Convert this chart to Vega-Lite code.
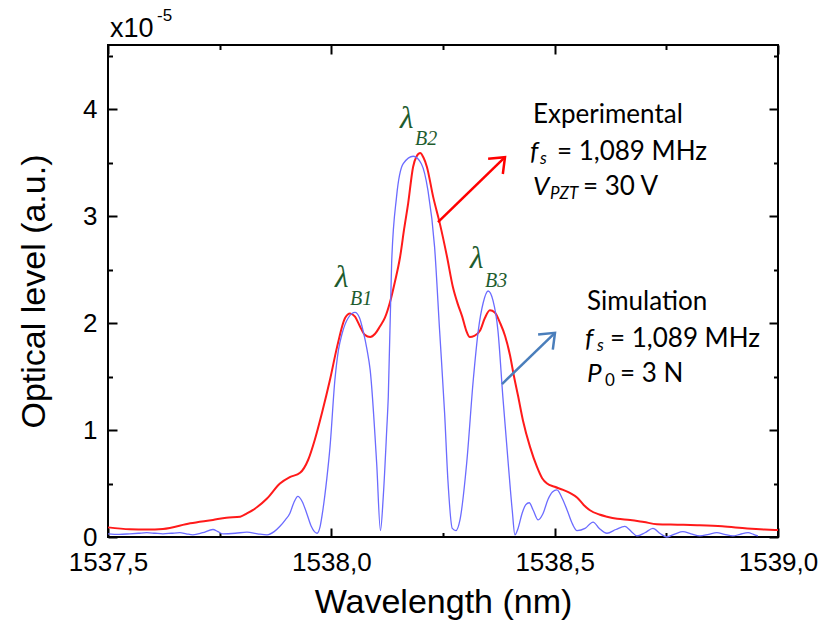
{
  "$schema": "https://vega.github.io/schema/vega-lite/v6.json",
  "autosize": {"type": "none"},
  "padding": {"left": 108, "top": 45, "right": 46, "bottom": 94},
  "width": 670,
  "height": 492,
  "background": "white",
  "datasets": {
    "exp": [
      {"wl":1537.5,"level":0.09},{"wl":1537.549,"level":0.072},{"wl":1537.587,"level":0.07},{"wl":1537.623,"level":0.075},{"wl":1537.684,"level":0.128},{"wl":1537.735,"level":0.16},{"wl":1537.765,"level":0.18},{"wl":1537.796,"level":0.19},{"wl":1537.811,"level":0.22},{"wl":1537.834,"level":0.28},{"wl":1537.856,"level":0.36},{"wl":1537.885,"level":0.5},{"wl":1537.907,"level":0.56},{"wl":1537.93,"level":0.6},{"wl":1537.948,"level":0.72},{"wl":1537.963,"level":0.91},{"wl":1537.979,"level":1.16},{"wl":1537.997,"level":1.47},{"wl":1538.013,"level":1.78},{"wl":1538.031,"level":2.05},{"wl":1538.042,"level":2.09},{"wl":1538.053,"level":2.06},{"wl":1538.064,"level":1.97},{"wl":1538.075,"level":1.89},{"wl":1538.087,"level":1.87},{"wl":1538.098,"level":1.9},{"wl":1538.109,"level":1.97},{"wl":1538.12,"level":2.05},{"wl":1538.131,"level":2.19},{"wl":1538.142,"level":2.38},{"wl":1538.154,"level":2.62},{"wl":1538.163,"level":2.88},{"wl":1538.172,"level":3.12},{"wl":1538.183,"level":3.46},{"wl":1538.191,"level":3.56},{"wl":1538.199,"level":3.59},{"wl":1538.206,"level":3.55},{"wl":1538.214,"level":3.46},{"wl":1538.228,"level":3.18},{"wl":1538.243,"level":2.93},{"wl":1538.259,"level":2.62},{"wl":1538.272,"level":2.34},{"wl":1538.283,"level":2.18},{"wl":1538.293,"level":2.06},{"wl":1538.302,"level":1.93},{"wl":1538.31,"level":1.87},{"wl":1538.32,"level":1.88},{"wl":1538.333,"level":1.93},{"wl":1538.344,"level":2.05},{"wl":1538.355,"level":2.12},{"wl":1538.366,"level":2.1},{"wl":1538.378,"level":2.0},{"wl":1538.389,"level":1.88},{"wl":1538.4,"level":1.7},{"wl":1538.409,"level":1.5},{"wl":1538.418,"level":1.32},{"wl":1538.429,"level":1.09},{"wl":1538.445,"level":0.84},{"wl":1538.46,"level":0.66},{"wl":1538.472,"level":0.55},{"wl":1538.483,"level":0.5},{"wl":1538.5,"level":0.47},{"wl":1538.519,"level":0.44},{"wl":1538.535,"level":0.41},{"wl":1538.55,"level":0.37},{"wl":1538.565,"level":0.3},{"wl":1538.579,"level":0.25},{"wl":1538.6,"level":0.21},{"wl":1538.617,"level":0.19},{"wl":1538.64,"level":0.17},{"wl":1538.669,"level":0.16},{"wl":1538.7,"level":0.14},{"wl":1538.729,"level":0.12},{"wl":1538.775,"level":0.115},{"wl":1538.819,"level":0.11},{"wl":1538.875,"level":0.1},{"wl":1538.931,"level":0.08},{"wl":1538.97,"level":0.07},{"wl":1539.0,"level":0.065}
    ],
    "sim": [
      {"wl":1537.5,"level":0.03},{"wl":1537.525,"level":0.025},{"wl":1537.549,"level":0.03},{"wl":1537.568,"level":0.035},{"wl":1537.587,"level":0.04},{"wl":1537.605,"level":0.035},{"wl":1537.623,"level":0.03},{"wl":1537.642,"level":0.035},{"wl":1537.661,"level":0.04},{"wl":1537.675,"level":0.03},{"wl":1537.69,"level":0.02},{"wl":1537.712,"level":0.04},{"wl":1537.735,"level":0.07},{"wl":1537.746,"level":0.05},{"wl":1537.757,"level":0.03},{"wl":1537.785,"level":0.035},{"wl":1537.811,"level":0.045},{"wl":1537.835,"level":0.03},{"wl":1537.856,"level":0.02},{"wl":1537.872,"level":0.05},{"wl":1537.885,"level":0.1},{"wl":1537.897,"level":0.16},{"wl":1537.907,"level":0.22},{"wl":1537.916,"level":0.32},{"wl":1537.925,"level":0.38},{"wl":1537.935,"level":0.33},{"wl":1537.945,"level":0.22},{"wl":1537.955,"level":0.1},{"wl":1537.968,"level":0.035},{"wl":1537.975,"level":0.1},{"wl":1537.981,"level":0.25},{"wl":1537.99,"level":0.55},{"wl":1537.997,"level":0.84},{"wl":1538.008,"level":1.47},{"wl":1538.016,"level":1.75},{"wl":1538.024,"level":1.9},{"wl":1538.038,"level":2.05},{"wl":1538.053,"level":2.1},{"wl":1538.063,"level":2.05},{"wl":1538.071,"level":1.93},{"wl":1538.08,"level":1.75},{"wl":1538.087,"level":1.56},{"wl":1538.1015,"level":0.69},{"wl":1538.11,"level":0.06},{"wl":1538.1163,"level":0.38},{"wl":1538.124,"level":1.0},{"wl":1538.1275,"level":1.31},{"wl":1538.135,"level":2.56},{"wl":1538.146,"level":3.18},{"wl":1538.161,"level":3.49},{"wl":1538.1835,"level":3.56},{"wl":1538.2015,"level":3.49},{"wl":1538.2163,"level":3.24},{"wl":1538.2312,"level":2.71},{"wl":1538.2424,"level":1.93},{"wl":1538.2536,"level":1.16},{"wl":1538.261,"level":0.53},{"wl":1538.2708,"level":0.08},{"wl":1538.279,"level":0.06},{"wl":1538.288,"level":0.16},{"wl":1538.303,"level":0.69},{"wl":1538.3178,"level":1.47},{"wl":1538.329,"level":1.93},{"wl":1538.34,"level":2.19},{"wl":1538.351,"level":2.3},{"wl":1538.362,"level":2.21},{"wl":1538.373,"level":1.93},{"wl":1538.384,"level":1.31},{"wl":1538.396,"level":0.69},{"wl":1538.405,"level":0.25},{"wl":1538.411,"level":0.02},{"wl":1538.418,"level":0.08},{"wl":1538.427,"level":0.22},{"wl":1538.435,"level":0.3},{"wl":1538.443,"level":0.32},{"wl":1538.452,"level":0.25},{"wl":1538.463,"level":0.16},{"wl":1538.474,"level":0.22},{"wl":1538.485,"level":0.35},{"wl":1538.495,"level":0.42},{"wl":1538.505,"level":0.44},{"wl":1538.517,"level":0.36},{"wl":1538.528,"level":0.25},{"wl":1538.54,"level":0.12},{"wl":1538.55,"level":0.06},{"wl":1538.568,"level":0.08},{"wl":1538.586,"level":0.14},{"wl":1538.6,"level":0.08},{"wl":1538.617,"level":0.035},{"wl":1538.637,"level":0.07},{"wl":1538.657,"level":0.1},{"wl":1538.672,"level":0.05},{"wl":1538.684,"level":0.01},{"wl":1538.702,"level":0.04},{"wl":1538.72,"level":0.08},{"wl":1538.737,"level":0.03},{"wl":1538.751,"level":0.0},{"wl":1538.77,"level":0.03},{"wl":1538.787,"level":0.05},{"wl":1538.805,"level":0.03},{"wl":1538.825,"level":0.01},{"wl":1538.845,"level":0.025},{"wl":1538.863,"level":0.04},{"wl":1538.88,"level":0.025},{"wl":1538.899,"level":0.01},{"wl":1538.915,"level":0.025},{"wl":1538.933,"level":0.04},{"wl":1538.945,"level":0.025},{"wl":1538.955,"level":0.01}
    ],
    "notes": [
      {"kind":"main","text":"Experimental","wl":1538.4515,"level":3.869},
      {"kind":"ital","text":"f","wl":1538.4448,"level":3.523},
      {"kind":"sub","text":"s","wl":1538.4672,"level":3.486},
      {"kind":"main","text":"= 1,089 MHz","wl":1538.5052,"level":3.523},
      {"kind":"ital","text":"V","wl":1538.4515,"level":3.196},
      {"kind":"sub","text":"PZT","wl":1538.4896,"level":3.159},
      {"kind":"main","text":"= 30 V","wl":1538.5634,"level":3.196},
      {"kind":"main","text":"Simulation","wl":1538.5724,"level":2.121},
      {"kind":"ital","text":"f","wl":1538.5679,"level":1.776},
      {"kind":"sub","text":"s","wl":1538.5948,"level":1.739},
      {"kind":"main","text":"= 1,089 MHz","wl":1538.6239,"level":1.776},
      {"kind":"ital","text":"P","wl":1538.5724,"level":1.449},
      {"kind":"subn","text":"0","wl":1538.6127,"level":1.411},
      {"kind":"main","text":"= 3 N","wl":1538.6462,"level":1.449},
      {"kind":"greek","text":"λ","wl":1538.0082,"level":2.336},
      {"kind":"greeksub","text":"B1","wl":1538.0418,"level":2.168},
      {"kind":"greek","text":"λ","wl":1538.1537,"level":3.822},
      {"kind":"greeksub","text":"B2","wl":1538.1873,"level":3.664},
      {"kind":"greek","text":"λ","wl":1538.3104,"level":2.514},
      {"kind":"greeksub","text":"B3","wl":1538.344,"level":2.336},
      {"kind":"mult","text":"x10","wl":1537.5045,"level":4.673},
      {"kind":"sup","text":"-5","wl":1537.6097,"level":4.82}
    ],
    "arrows": [
      {"series":"Experimental","wl":1538.2388,"level":2.944,"wl2":1538.3888,"level2":3.551},
      {"series":"Simulation","wl":1538.3821,"level":1.43,"wl2":1538.5007,"level2":1.909}
    ]
  },
  "layer": [
    {
      "data": {"name": "exp"},
      "mark": {"type": "line", "color": "#ff1a1a", "strokeWidth": 2, "interpolate": "monotone"},
      "encoding": {
        "x": {"field": "wl", "type": "quantitative", "scale": {"domain": [1537.5, 1539.0], "nice": false},
          "axis": {"orient": "bottom", "values": [1537.5, 1538.0, 1538.5, 1539.0], "ticks": false, "labelPadding": 12,
            "labelFlush": false, "labelOverlap": false, "labelFont": "Liberation Sans", "labelFontSize": 26, "labelBound": false,
            "labelExpr": "replace(format(datum.value, '.1f'), '.', ',')", "title": "Wavelength (nm)",
            "titleBaseline": "alphabetic", "titleY": 75, "titleX": 335}},
        "y": {"field": "level", "type": "quantitative", "scale": {"domain": [0, 4.6], "nice": false, "zero": true},
          "axis": {"orient": "left", "values": [0, 1, 2, 3, 4], "ticks": false, "labelPadding": 11, "format": "d",
            "labelFlush": false, "labelOverlap": false, "labelFont": "Liberation Sans", "labelFontSize": 26,
            "title": "Optical level (a.u.)", "titleBaseline": "alphabetic", "titleX": -64, "titleY": 246, "titleAngle": -90, "titleAlign": "center"}}
      }
    },
    {
      "data": {"name": "sim"},
      "mark": {"type": "line", "color": "#6b6bff", "strokeWidth": 1.3, "interpolate": "monotone"},
      "encoding": {
        "x": {"field": "wl", "type": "quantitative",
          "axis": {"orient": "bottom", "values": [1537.5, 1538.0, 1538.5, 1539.0], "labels": false, "tickSize": 9, "offset": -9, "title": null}},
        "y": {"field": "level", "type": "quantitative",
          "axis": {"orient": "left", "values": [0, 1, 2, 3, 4], "labels": false, "tickSize": 9, "offset": -9, "title": null}}
      }
    },
    {
      "data": {"name": "notes"},
      "transform": [{"filter": "datum.kind === 'main'"}],
      "mark": {"type": "text", "align": "left", "baseline": "alphabetic", "font": "Lato", "fontSize": 26, "color": "black"},
      "encoding": {
        "x": {"field": "wl", "type": "quantitative",
          "axis": {"orient": "top", "values": [1537.5, 1538.0, 1538.5, 1539.0], "labels": false, "tickSize": 9, "offset": -9, "title": null}},
        "y": {"field": "level", "type": "quantitative",
          "axis": {"orient": "right", "values": [0, 1, 2, 3, 4], "labels": false, "tickSize": 9, "offset": -9, "title": null}},
        "text": {"field": "text"}
      }
    },
    {
      "data": {"name": "notes"},
      "transform": [{"filter": "datum.kind === 'ital'"}],
      "mark": {"type": "text", "align": "left", "baseline": "alphabetic", "font": "Lato", "fontStyle": "italic", "fontSize": 26, "color": "black"},
      "encoding": {
        "x": {"field": "wl", "type": "quantitative",
          "axis": {"orient": "bottom", "values": [1537.75, 1538.25, 1538.75], "labels": false, "tickSize": 4.5, "offset": -4.5, "title": null}},
        "y": {"field": "level", "type": "quantitative",
          "axis": {"orient": "left", "values": [0.5, 1.5, 2.5, 3.5, 4.5], "labels": false, "tickSize": 4.5, "offset": -4.5, "title": null}},
        "text": {"field": "text"}
      }
    },
    {
      "data": {"name": "notes"},
      "transform": [{"filter": "datum.kind === 'sub'"}],
      "mark": {"type": "text", "align": "left", "baseline": "alphabetic", "font": "Lato", "fontStyle": "italic", "fontSize": 17, "color": "black"},
      "encoding": {
        "x": {"field": "wl", "type": "quantitative",
          "axis": {"orient": "top", "values": [1537.75, 1538.25, 1538.75], "labels": false, "tickSize": 4.5, "offset": -4.5, "title": null}},
        "y": {"field": "level", "type": "quantitative",
          "axis": {"orient": "right", "values": [0.5, 1.5, 2.5, 3.5, 4.5], "labels": false, "tickSize": 4.5, "offset": -4.5, "title": null}},
        "text": {"field": "text"}
      }
    },
    {
      "data": {"name": "notes"},
      "transform": [{"filter": "datum.kind === 'subn'"}],
      "mark": {"type": "text", "align": "left", "baseline": "alphabetic", "font": "Lato", "fontSize": 17, "color": "black"},
      "encoding": {
        "x": {"field": "wl", "type": "quantitative", "axis": null},
        "y": {"field": "level", "type": "quantitative", "axis": null},
        "text": {"field": "text"}
      }
    },
    {
      "data": {"name": "notes"},
      "transform": [{"filter": "datum.kind === 'greek'"}],
      "mark": {"type": "text", "align": "left", "baseline": "alphabetic", "font": "Liberation Serif", "fontStyle": "italic", "fontSize": 31, "color": "#1e5c2e"},
      "encoding": {
        "x": {"field": "wl", "type": "quantitative", "axis": null},
        "y": {"field": "level", "type": "quantitative", "axis": null},
        "text": {"field": "text"}
      }
    },
    {
      "data": {"name": "notes"},
      "transform": [{"filter": "datum.kind === 'greeksub'"}],
      "mark": {"type": "text", "align": "left", "baseline": "alphabetic", "font": "Liberation Serif", "fontStyle": "italic", "fontSize": 20, "color": "#1e5c2e"},
      "encoding": {
        "x": {"field": "wl", "type": "quantitative", "axis": null},
        "y": {"field": "level", "type": "quantitative", "axis": null},
        "text": {"field": "text"}
      }
    },
    {
      "data": {"name": "notes"},
      "transform": [{"filter": "datum.kind === 'mult'"}],
      "mark": {"type": "text", "align": "left", "baseline": "alphabetic", "font": "Liberation Sans", "fontSize": 27, "color": "black"},
      "encoding": {
        "x": {"field": "wl", "type": "quantitative", "axis": null},
        "y": {"field": "level", "type": "quantitative", "axis": null},
        "text": {"field": "text"}
      }
    },
    {
      "data": {"name": "notes"},
      "transform": [{"filter": "datum.kind === 'sup'"}],
      "mark": {"type": "text", "align": "left", "baseline": "alphabetic", "font": "Liberation Sans", "fontSize": 17, "color": "black"},
      "encoding": {
        "x": {"field": "wl", "type": "quantitative", "axis": null},
        "y": {"field": "level", "type": "quantitative", "axis": null},
        "text": {"field": "text"}
      }
    },
    {
      "data": {"name": "arrows"},
      "mark": {"type": "rule", "strokeWidth": 2.5},
      "encoding": {
        "x": {"field": "wl", "type": "quantitative", "axis": null},
        "y": {"field": "level", "type": "quantitative", "axis": null},
        "x2": {"field": "wl2"},
        "y2": {"field": "level2"},
        "color": {"field": "series", "type": "nominal", "scale": {"domain": ["Experimental", "Simulation"], "range": ["#ff0000", "#4a7ebb"]}, "legend": null}
      }
    },
    {
      "data": {"name": "arrows"},
      "mark": {"type": "point", "shape": "M -1 -0.8 L 0 0 L -1 0.8", "filled": false, "strokeWidth": 2.5, "size": 700, "angle": 316, "opacity": 1, "strokeJoin": "miter"},
      "encoding": {
        "x": {"field": "wl2", "type": "quantitative", "axis": null},
        "y": {"field": "level2", "type": "quantitative", "axis": null},
        "color": {"field": "series", "type": "nominal", "legend": null}
      }
    }
  ],
  "resolve": {"axis": {"x": "independent", "y": "independent"}},
  "config": {
    "view": {"stroke": "black", "strokeWidth": 2},
    "axis": {"grid": false, "domain": false, "labelFont": "Liberation Sans", "labelFontSize": 26, "labelColor": "black",
      "titleFont": "Liberation Sans", "titleFontSize": 34, "titleFontWeight": "normal", "titleColor": "black",
      "tickColor": "black", "tickWidth": 2}
  }
}
